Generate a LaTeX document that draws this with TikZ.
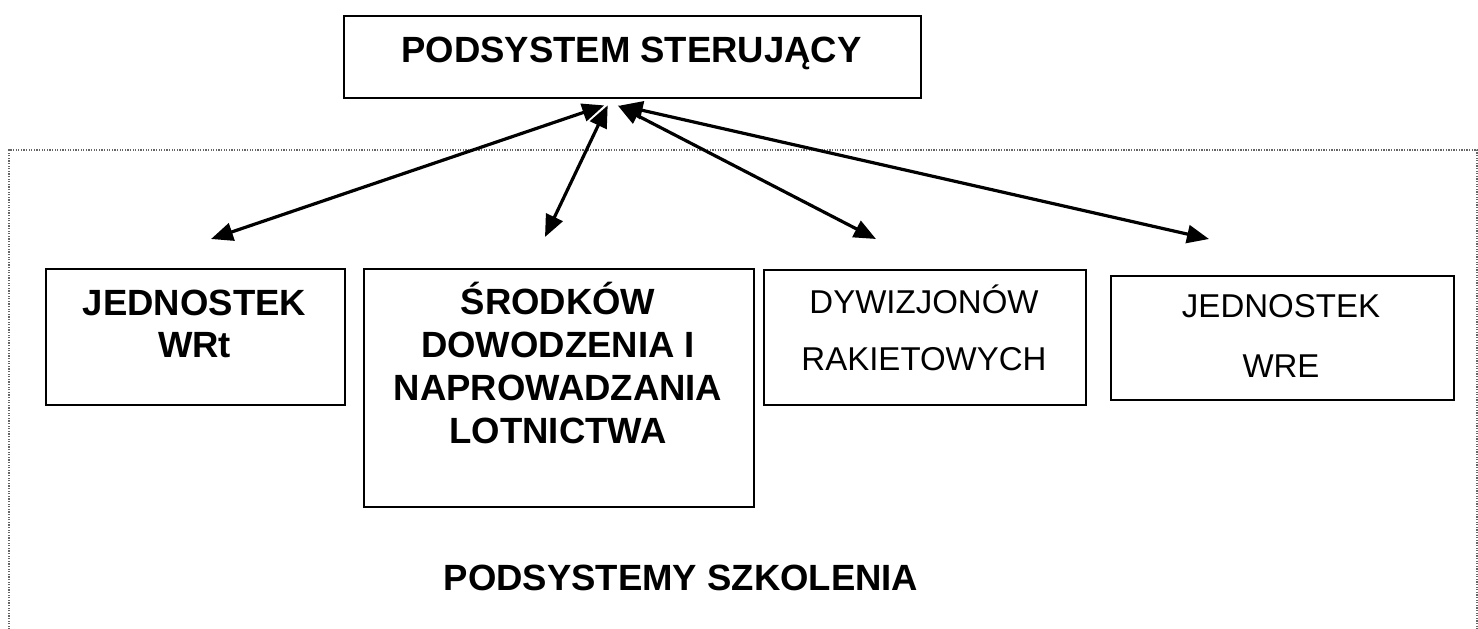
\documentclass[tikz,border=0pt]{standalone}
\usepackage{fontspec}
\setmainfont{Liberation Sans}
\usetikzlibrary{arrows.meta}
\begin{document}
\begin{tikzpicture}[x=1pt,y=-1pt,
  box/.style={draw=black, line width=2.4pt, inner sep=0pt, anchor=north west},
  boldtext/.style={font=\fontsize{36.5}{42}\selectfont\bfseries, anchor=base, inner sep=0pt},
  plaintext/.style={font=\fontsize{33}{40}\selectfont, anchor=base, inner sep=0pt},
  link/.style={line width=3.2pt,
    {Triangle[length=22pt,width=18pt]}-{Triangle[length=22pt,width=18pt]}},
  frame/.style={draw=black!60, line width=1.3pt, dash pattern=on 1.3pt off 1.3pt}]
\useasboundingbox (0,0) rectangle (1478,629);
\fill[white] (0,0) rectangle (1478,629);
\clip (0,0) rectangle (1478,629);

% dotted frame of the training subsystems (open at the bottom edge)
\draw[frame] (9,640) -- (9,150) -- (1477,150) -- (1477,640);

% control subsystem
\node[box, minimum width=577pt, minimum height=82pt] (ster) at (343,15) {};
\node[boldtext] (sterT) at (631.5,62) {PODSYSTEM STERUJĄCY};

% training subsystem boxes
\node[box, minimum width=299pt, minimum height=136pt] (wrt) at (45,268) {};
\node[boldtext] (wrtA) at (194.5,315) {JEDNOSTEK};
\node[boldtext] (wrtB) at (194.5,357) {WRt};

\node[box, minimum width=390pt, minimum height=238pt] (srod) at (363,268) {};
\node[boldtext] (srodA) at (558,314) {ŚRODKÓW};
\node[boldtext] (srodB) at (558,357) {DOWODZENIA I};
\node[boldtext] (srodC) at (558,400) {NAPROWADZANIA};
\node[boldtext] (srodD) at (558,443) {LOTNICTWA};

\node[box, minimum width=322pt, minimum height=135pt] (dyw) at (763,269) {};
\node[plaintext] (dywA) at (924,313) {DYWIZJONÓW};
\node[plaintext] (dywB) at (924,370) {RAKIETOWYCH};

\node[box, minimum width=343pt, minimum height=124pt] (wre) at (1110,275) {};
\node[plaintext] (wreA) at (1281,317) {JEDNOSTEK};
\node[plaintext] (wreB) at (1281,377) {WRE};

\node[boldtext] (szk) at (681,590) {PODSYSTEMY SZKOLENIA};

% arrow ends
\coordinate (hubA) at ([xshift=-28.5pt,yshift=-6pt]ster.south);
\coordinate (hubB) at ([xshift=-25pt,yshift=-6pt]ster.south);
\coordinate (hubC) at ([xshift=-15pt,yshift=-6pt]ster.south);
\coordinate (hubD) at ([xshift=-12pt,yshift=-6pt]ster.south);
\coordinate (endWrt) at (211,239);
\coordinate (endSrod) at (545,237);
\coordinate (endDyw) at (876,239);
\coordinate (endWre) at (1209,239);

\draw[link] (hubA) -- (endWrt);
\draw[link] (hubB) -- (endSrod);
\draw[link] (hubC) -- (endDyw);
\draw[link] (hubD) -- (endWre);
\end{tikzpicture}
\end{document}
